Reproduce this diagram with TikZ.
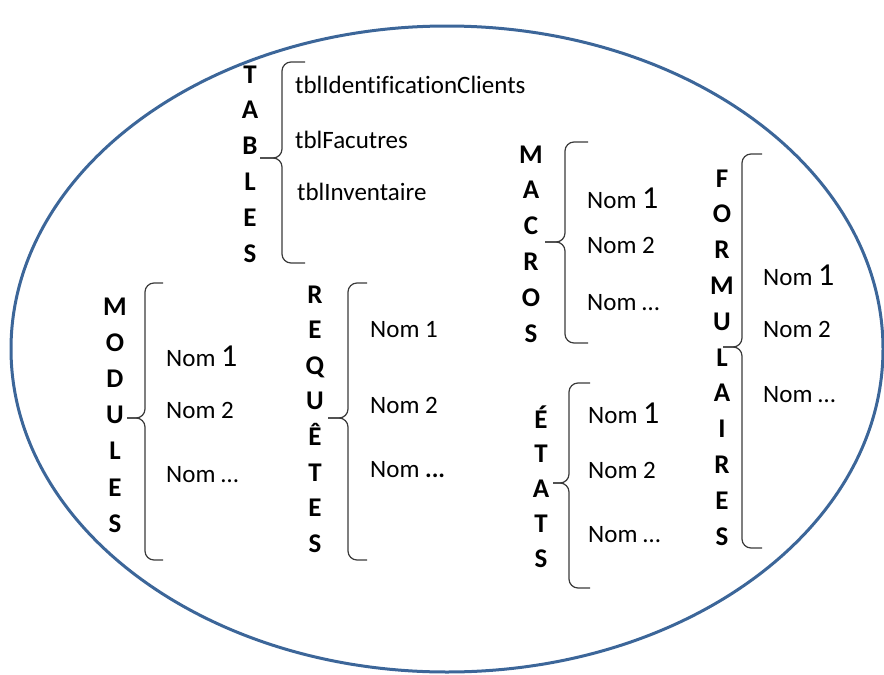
\documentclass[tikz,border=0pt]{standalone}
\usepackage{fontspec}
\setmainfont[Ligatures=NoCommon]{Carlito}
\definecolor{ellblue}{HTML}{3C6699}
\definecolor{bracegray}{HTML}{3A3A3A}
\newcommand\accolade[6]{%
  \draw[accol] (#6,#2) -- (#1,#2) -- (#1,#4) -- (#5,#4);
  \draw[accol] (#5,#4) -- (#1,#4) -- (#1,#3) -- (#6,#3);}
\newcommand\un{{\fontsize{32}{32}\selectfont 1}}
\begin{document}
\begin{tikzpicture}[x=1pt,y=-1pt,
  lettre/.style={font=\fontsize{27}{30}\selectfont\bfseries, inner sep=0pt, anchor=base},
  item/.style={font=\fontsize{25}{30}\selectfont, inner sep=0pt, anchor=base west},
  accol/.style={draw=bracegray, line width=1.2pt, rounded corners=9pt}]
\useasboundingbox (0,0) rectangle (884,675);
\draw[ellblue, line width=3pt] (447,349) ellipse [x radius=436pt, y radius=323pt];

% TABLES
\foreach \l [count=\i] in {T,A,B,L,E,S}
  \node[lettre] (tables-\i) at (250, {83+35.8*(\i-1)}) {\l};
\accolade{282}{62}{263}{158}{260}{305}
\node[item] (t1) at (295,93) {tblIdentificationClients};
\node[item] (t2) at (295,148) {tblFacutres};
\node[item] (t3) at (297,200) {tblInventaire};

% MACROS
\foreach \l [count=\i] in {M,A,C,R,O,S}
  \node[lettre] (macros-\i) at (531, {163+35.8*(\i-1)}) {\l};
\accolade{565}{142}{343}{242}{545}{588}
\node[item] (ma1) at (587,208) {Nom \un};
\node[item] (ma2) at (587,253) {Nom 2};
\node[item] (ma3) at (587,310) {Nom …};

% FORMULAIRES
\foreach \l [count=\i] in {F,O,R,M,U,L,A,I,R,E,S}
  \node[lettre] (form-\i) at (722, {187+35.8*(\i-1)}) {\l};
\accolade{742}{154}{548}{347}{723}{762}
\node[item] (f1) at (763,285) {Nom \un};
\node[item] (f2) at (763,337) {Nom 2};
\node[item] (f3) at (763,402) {Nom …};

% MODULES
\foreach \l [count=\i] in {M,O,D,U,L,E,S}
  \node[lettre] (mod-\i) at (115, {315+36.2*(\i-1)}) {\l};
\accolade{145}{283}{560}{418}{127}{163}
\node[item] (mo1) at (166,366) {Nom \un};
\node[item] (mo2) at (166,418) {Nom 2};
\node[item] (mo3) at (166,482) {Nom …};

% REQUETES
\foreach \l [count=\i] in {R,E,Q,U,Ê,T,E,S}
  \node[lettre] (req-\i) at (315, {303+35.6*(\i-1)}) {\l};
\accolade{348}{283}{560}{418}{328}{367}
\node[item] (r1) at (370,337) {Nom 1};
\node[item] (r2) at (370,413) {Nom 2};
\node[item] (r3) at (370,477) {Nom \textbf{...}};

% ETATS
\foreach \l [count=\i] in {É,T,A,T,S}
  \node[lettre] (etats-\i) at (541, {428+34.75*(\i-1)}) {\l};
\accolade{569}{383}{588}{483}{553}{590}
\node[item] (e1) at (588,423) {Nom \un};
\node[item] (e2) at (588,478) {Nom 2};
\node[item] (e3) at (588,542) {Nom …};
\end{tikzpicture}
\end{document}
